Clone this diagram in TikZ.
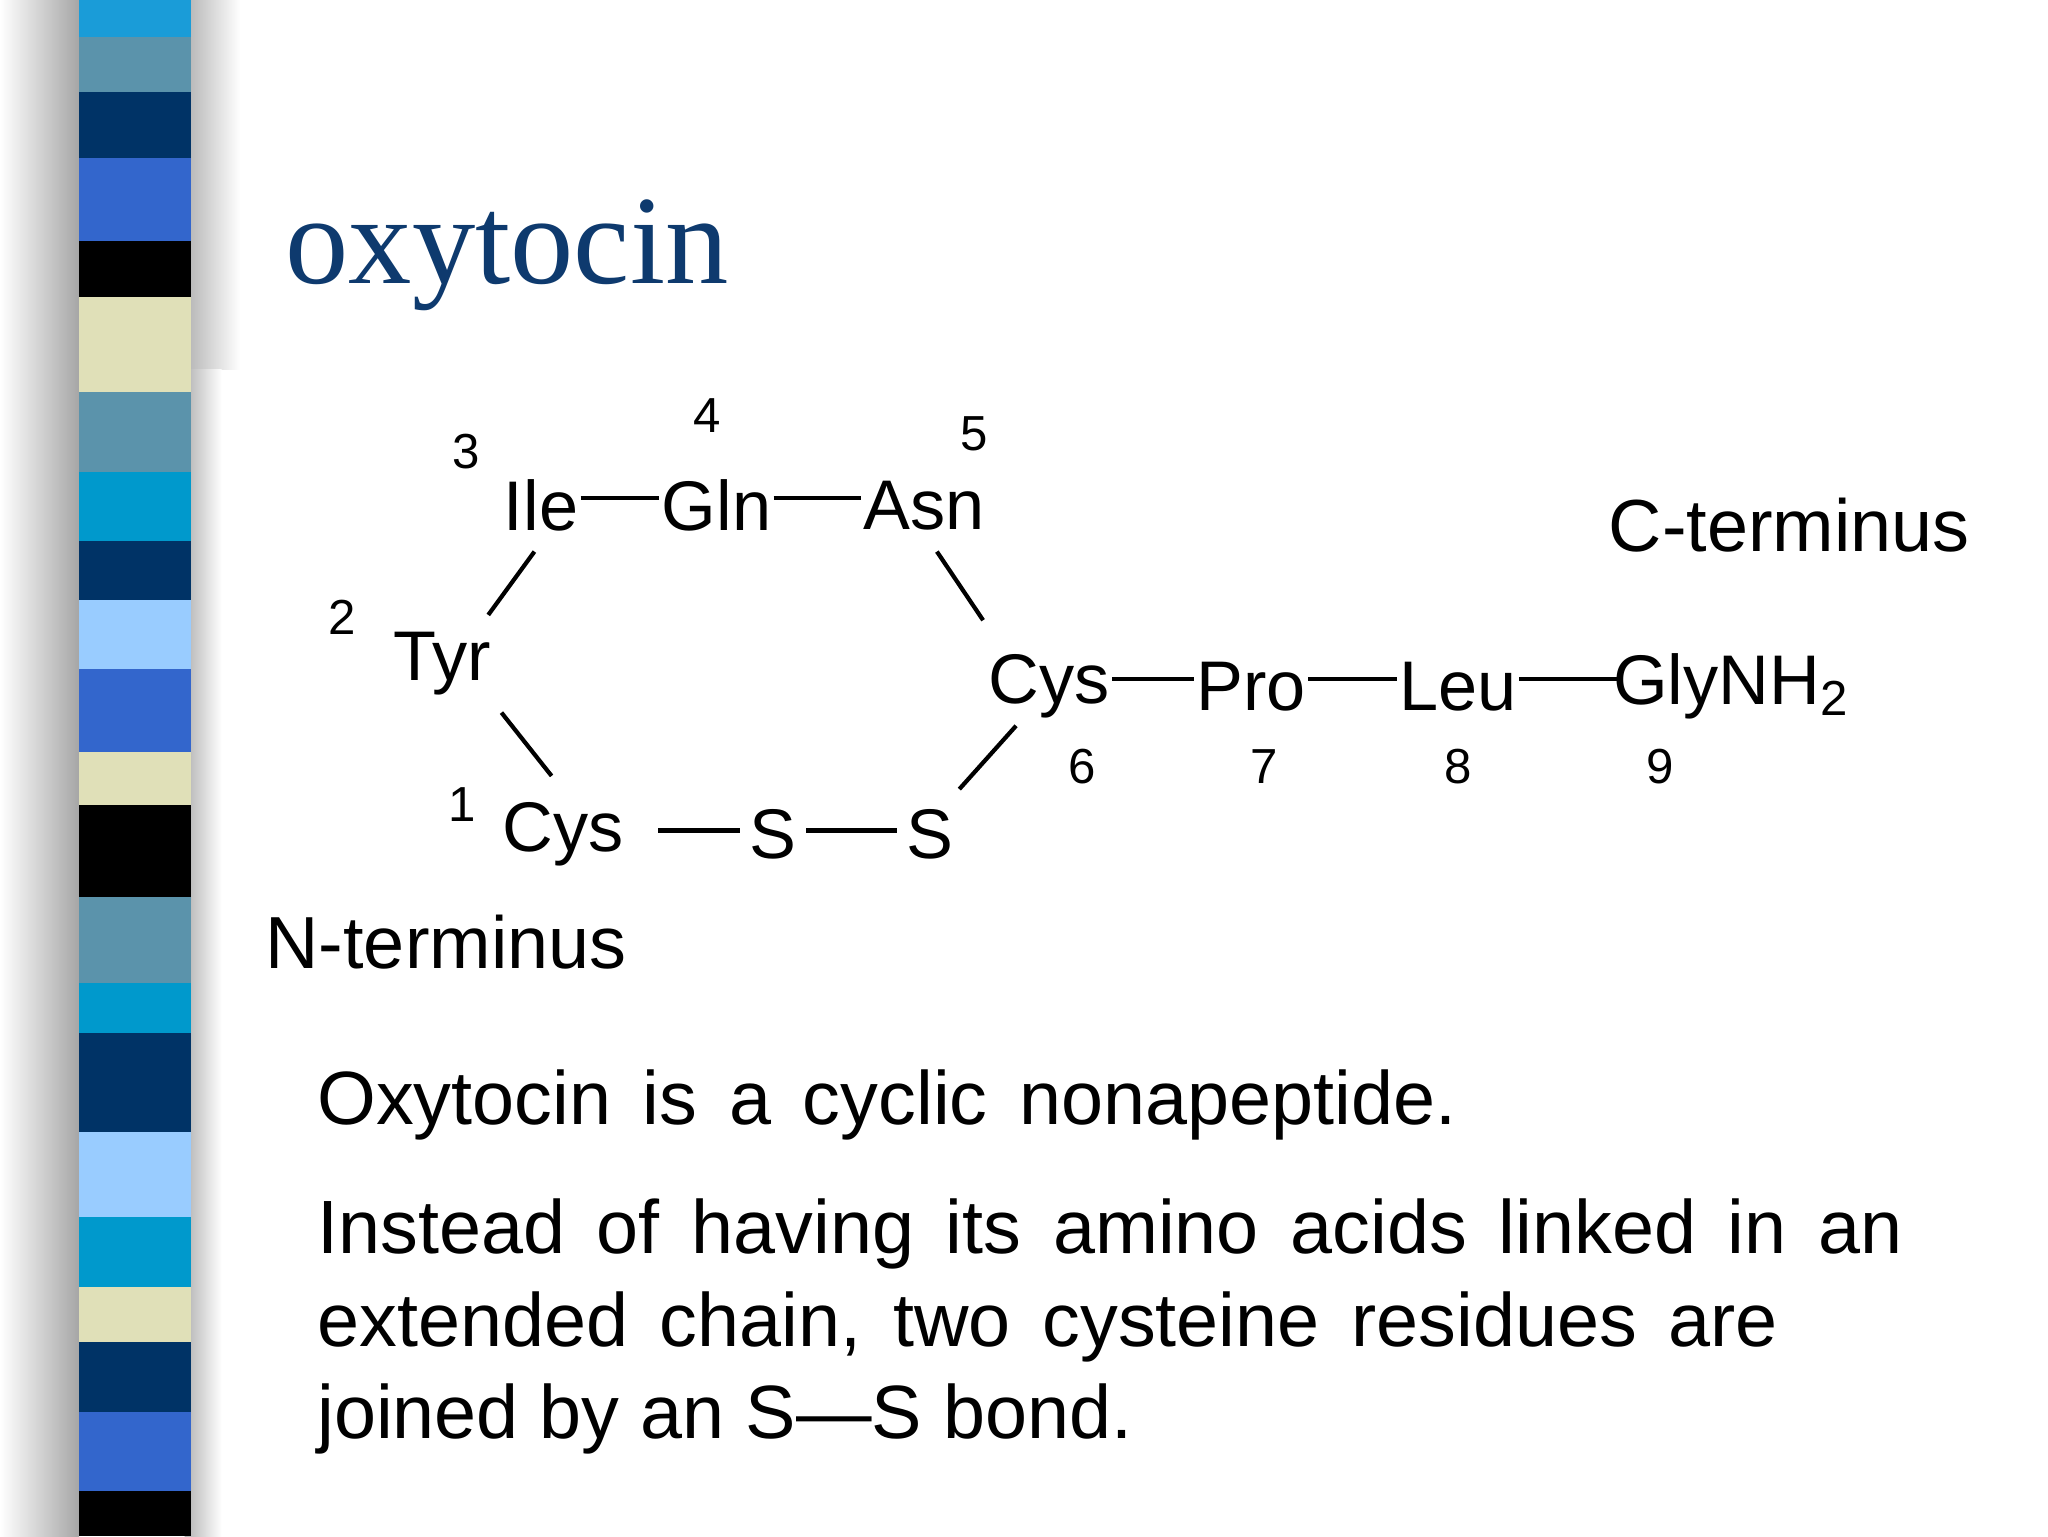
\documentclass[tikz,border=0pt]{standalone}
\usepackage{fontspec}
\setmainfont{Liberation Sans}
\newfontfamily\titlefont{Liberation Serif}
\newcommand{\widesp}{\spaceskip=0.42em\relax}
\begin{document}
\begin{tikzpicture}[x=0.013196cm,y=-0.013196cm,
  aa/.style={font=\fontsize{20}{22}\selectfont,inner sep=0.5pt},
  num/.style={font=\fontsize{14}{16}\selectfont,inner sep=0pt},
  term/.style={font=\fontsize{21}{23}\selectfont,inner sep=0pt},
  body/.style={font=\fontsize{21.5}{23}\selectfont,inner sep=0pt,anchor=base west},
  bond/.style={line width=1.2pt}]
\useasboundingbox (0,0) rectangle (1552,1164);
\fill[white] (0,0) rectangle (1552,1164);
% shadows
\shade[left color=white,right color=black!35] (0,0) rectangle (60,1164);
\shade[left color=black!30,right color=white] (140,0) rectangle (182,280);
\shade[left color=black!30,right color=white] (140,280) rectangle (168,1164);
% stripe blocks
\foreach \a/\b/\c in {0/28/1A9CD8,28/70/5B93AB,70/120/003366,120/183/3366CC,183/225/000000,225/297/E0E0B8,297/358/5B93AB,358/410/0099CC,410/455/003366,455/507/99CCFF,507/570/3366CC,570/610/E0E0B8,610/680/000000,680/745/5B93AB,745/783/0099CC,783/858/003366,858/922/99CCFF,922/975/0099CC,975/1017/E0E0B8,1017/1070/003366,1070/1130/3366CC,1130/1164/000000}{
  \definecolor{tmp}{HTML}{\c}
  \fill[tmp] (60,\a) rectangle (145,\b);
}
% title
\node[font=\titlefont\fontsize{36}{38}\selectfont,anchor=base west,inner sep=0pt] (title) at (216,215) {\color[HTML]{0E3A6E}oxytocin};
% residues
\node[aa] (ile) at (410,383) {Ile};
\node[aa] (gln) at (543,383) {Gln};
\node[aa] (asn) at (700,383) {Asn};
\node[aa] (tyr) at (335,503) {Tyr};
\node[aa] (cysA) at (427,632) {Cys};
\node[aa] (s1) at (586,632) {S};
\node[aa] (s2) at (705,632) {S};
\node[aa] (cysB) at (795,520) {Cys};
\node[aa] (pro) at (948,520) {Pro};
\node[aa] (leu) at (1105,520) {Leu};
\node[aa] (gly) at (1312,520) {GlyNH\textsubscript{2}};
% numbers
\node[num] (n1) at (350,610) {1};
\node[num] (n2) at (259,468) {2};
\node[num] (n3) at (353,342) {3};
\node[num] (n4) at (536,315) {4};
\node[num] (n5) at (738,329) {5};
\node[num] (n6) at (820,581) {6};
\node[num] (n7) at (958,581) {7};
\node[num] (n8) at (1105,581) {8};
\node[num] (n9) at (1258,581) {9};
% termini
\node[term] (ct) at (1356,398) {C-terminus};
\node[term] (nt) at (338,714) {N-terminus};
% bonds
\draw[bond] ([yshift=2pt]ile.east) -- ([yshift=2pt]gln.west);
\draw[bond] ([yshift=2pt]gln.east) -- ([yshift=2pt]asn.west);
\draw[bond] ([xshift=9pt,yshift=1pt]cysA.east) -- ([xshift=-2pt,yshift=1pt]s1.west);
\draw[bond] ([xshift=2pt,yshift=1pt]s1.east) -- ([xshift=-2pt,yshift=1pt]s2.west);
\draw[bond] ([yshift=2pt]cysB.east) -- ([yshift=2pt]pro.west);
\draw[bond] ([yshift=2pt]pro.east) -- ([yshift=2pt]leu.west);
\draw[bond] ([yshift=2pt]leu.east) -- ([yshift=2pt,xshift=2pt]gly.west);
\coordinate (b1) at (405,418); \coordinate (b2) at (370,466);
\draw[bond] (b1) -- (b2);
\coordinate (b3) at (380,540); \coordinate (b4) at (418,588);
\draw[bond] (b3) -- (b4);
\coordinate (b5) at (710,418); \coordinate (b6) at (745,470);
\draw[bond] (b5) -- (b6);
\coordinate (b7) at (770,550); \coordinate (b8) at (727,598);
\draw[bond] (b7) -- (b8);
% body text
\node[body] (t1) at (240,852) {\widesp Oxytocin is a cyclic nonapeptide.};
\node[body] (t2) at (240,950) {\widesp Instead of having its amino acids linked in an};
\node[body] (t3) at (240,1020) {\widesp extended chain, two cysteine residues are};
\node[body] (t4) at (240,1090) {joined by an S---S bond.};
\end{tikzpicture}
\end{document}
